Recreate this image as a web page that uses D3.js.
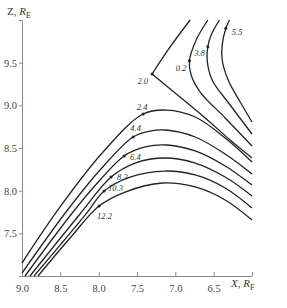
<!DOCTYPE html>
<html><head><meta charset="utf-8">
<script src="https://cdn.jsdelivr.net/npm/d3@7"></script>
<style>body{margin:0;background:#fff}</style>
</head><body><svg id="c" width="287" height="308"></svg>
<script>
// ---- data (X, Z in Earth radii) ----
const xTicks = [9.0, 8.5, 8.0, 7.5, 7.0, 6.5];
const yTicks = [7.5, 8.0, 8.5, 9.0, 9.5];
const xDomain = [9.0, 6.0];
const yDomain = [7.0, 10.0];

const curveNames = ["2.4", "4.4", "6.4", "8.3", "10.3", "12.2", "2.0", "0.2", "3.8", "5.5"];
const arch24 = [[9.0,7.152],[8.504,7.809],[7.943,8.453],[7.420,8.898],[7.120,8.945],[6.741,8.863],[6.350,8.617],[6.0,8.336]];
const arch44 = [[9.0,7.035],[8.426,7.750],[7.982,8.242],[7.551,8.629],[7.329,8.699],[7.120,8.711],[6.741,8.629],[6.350,8.430],[6.0,8.195]];
const arch64 = [[8.961,7.0],[8.334,7.750],[7.982,8.125],[7.668,8.406],[7.394,8.512],[7.107,8.535],[6.741,8.465],[6.350,8.289],[6.0,8.066]];
const arch83 = [[8.896,7.0],[8.243,7.727],[7.838,8.160],[7.525,8.324],[7.133,8.383],[6.741,8.324],[6.350,8.160],[6.0,7.938]];
const arch103 = [[8.843,7.0],[8.164,7.727],[7.929,7.996],[7.590,8.160],[7.133,8.230],[6.741,8.184],[6.350,8.031],[6.0,7.797]];
const arch122 = [[8.791,7.0],[8.373,7.445],[7.995,7.820],[7.655,7.984],[7.172,8.090],[6.741,8.043],[6.350,7.891],[6.0,7.656]];
const line20up = [[7.303,9.367],[7.068,9.684],[6.807,10.0]];
const line20down = [[7.303,9.367],[7.003,9.145],[6.611,8.852],[6.285,8.594],[6.0,8.383]];
const line02 = [[6.576,10.0],[6.728,9.766],[6.816,9.523],[6.794,9.355],[6.676,9.156],[6.350,8.852],[6.0,8.523]];
const line38 = [[6.424,10.0],[6.533,9.824],[6.576,9.687],[6.585,9.531],[6.520,9.297],[6.285,9.004],[6.0,8.664]];
const line55 = [[6.294,10.0],[6.341,9.903],[6.389,9.707],[6.389,9.531],[6.311,9.297],[6.154,9.039],[6.0,8.805]];

// marker points (where labels attach)
const markerPts = [[7.420,8.898],[7.551,8.629],[7.668,8.406],[7.838,8.160],[7.929,7.996],[7.995,7.820],[7.303,9.367],[6.816,9.523],[6.576,9.687],[6.341,9.903]];

// ---- layout ----
const svg = d3.select("#c");
const x = d3.scaleLinear().domain(xDomain).range([22, 252]);
const y = d3.scaleLinear().domain(yDomain).range([276, 20]);
const serif = "'Liberation Serif','DejaVu Serif',serif";
const axisCol = "#8a8a8a";

// axes
const gx = svg.append("g").attr("transform", "translate(0,276)")
  .call(d3.axisBottom(x).tickValues(xTicks).tickSize(-4).tickPadding(9).tickFormat(d3.format(".1f")));
const gy = svg.append("g").attr("transform", "translate(22,0)")
  .call(d3.axisLeft(y).tickValues(yTicks).tickSize(3).tickPadding(2).tickFormat(d3.format(".1f")));
[gx, gy].forEach(g => {
  g.select(".domain").attr("stroke", axisCol).attr("stroke-width", 1);
  g.selectAll(".tick line").attr("stroke", axisCol);
  g.selectAll(".tick text").attr("fill", "#444").attr("font-family", serif).attr("font-size", 10.5);
});
gx.selectAll(".tick").filter(d => d === 9.0).select("line").remove();

// curves
const lineGen = d3.line().x(d => x(d[0])).y(d => y(d[1])).curve(d3.curveCatmullRom.alpha(0.5));
const allCurves = [arch24, arch44, arch64, arch83, arch103, arch122, line20up, line20down, line02, line38, line55];
svg.append("g").selectAll("path").data(allCurves).join("path")
  .attr("d", lineGen).attr("fill", "none").attr("stroke", "#222").attr("stroke-width", 1.3);

// markers
svg.append("g").selectAll("circle").data(markerPts).join("circle")
  .attr("cx", d => x(d[0])).attr("cy", d => y(d[1])).attr("r", 1.5).attr("fill", "#222");

// labels
const labelOff = [[-1,-4,"middle"],[2.5,-6,"middle"],[6,4,"start"],[6,3,"start"],[4,0,"start"],[-2,13,"start"],[-4,10,"end"],[-3,10,"end"],[-3,9,"end"],[6,7,"start"]];
svg.append("g").selectAll("text").data(curveNames).join("text")
  .attr("x", (d,i) => x(markerPts[i][0]) + labelOff[i][0])
  .attr("y", (d,i) => y(markerPts[i][1]) + labelOff[i][1])
  .attr("text-anchor", (d,i) => labelOff[i][2])
  .attr("font-family", serif).attr("font-style", "italic").attr("font-size", 8.5).attr("fill", "#333")
  .text(d => d);

// axis titles
const yt = svg.append("text").attr("x", 7).attr("y", 15).attr("font-family", serif).attr("font-size", 11).attr("fill", "#333");
yt.append("tspan").text("Z, ");
yt.append("tspan").attr("font-style", "italic").text("R");
yt.append("tspan").attr("font-size", 8).attr("dy", 3).text("E");
const xt = svg.append("text").attr("x", 231).attr("y", 287).attr("font-family", serif).attr("font-size", 11).attr("fill", "#333");
xt.append("tspan").attr("font-style", "italic").text("X");
xt.append("tspan").text(", ");
xt.append("tspan").attr("font-style", "italic").text("R");
xt.append("tspan").attr("font-size", 8).attr("dy", 3).text("F");
</script>
</body></html>
